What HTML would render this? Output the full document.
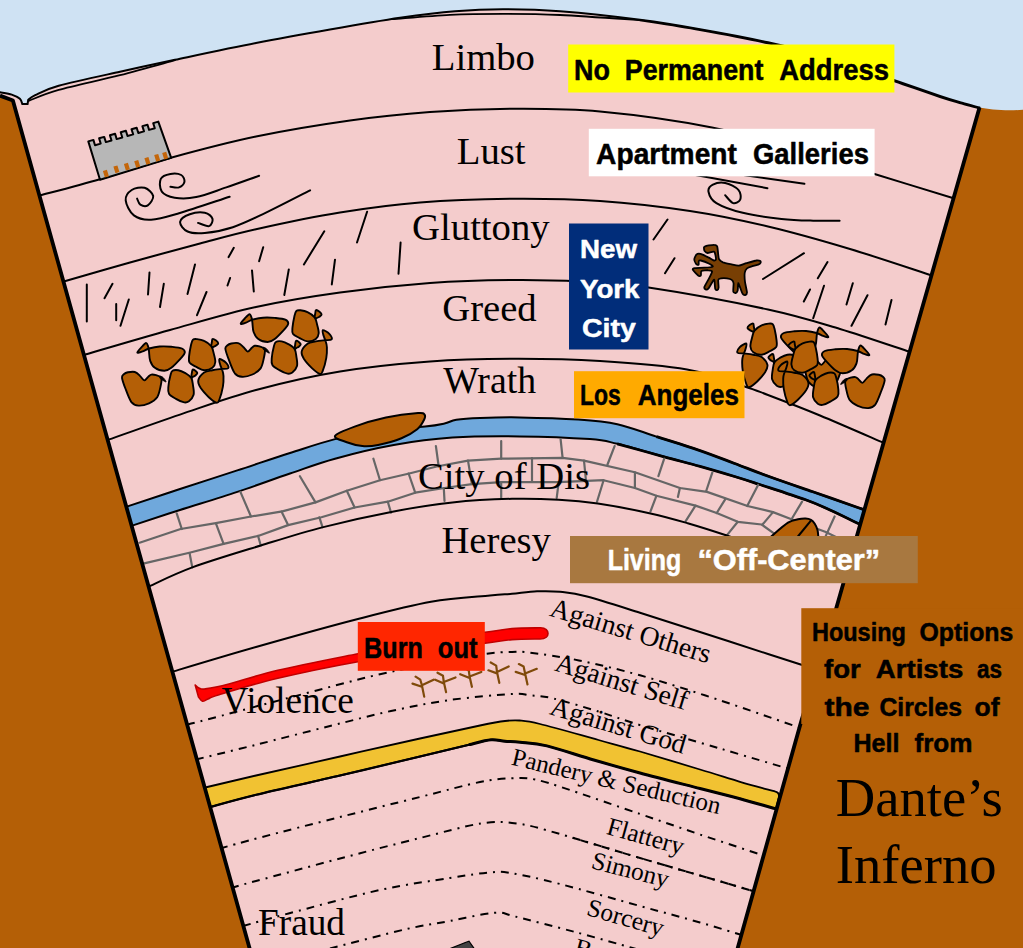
<!DOCTYPE html>
<html lang="en">
<head>
<meta charset="utf-8">
<title>Housing Options for Artists as the Circles of Hell from Dante’s Inferno</title>
<style>html,body{margin:0;padding:0;background:#cfe2f3;overflow:hidden}svg{display:block}</style>
</head>
<body>
<svg width="1023" height="948" viewBox="0 0 1023 948">
<rect width="1023" height="948" fill="#cfe2f3"/>
<path d="M0 95.2L14 101L250.9 953 L0 953 Z" fill="#b45f06"/>
<path d="M979.5 107.5C990 109.5 1005 111.2 1023 109.8L1023 953 L736.3 953 L801.3 721L836.3 608Z" fill="#b45f06"/>
<path id="fun" d="M0 92.3C1.9 92.7 8.4 93.5 11.7 94.6C15 95.7 18.1 97.1 19.9 98.7C21.7 100.3 21.9 103.1 22.3 104L27.6 104L28.2 99.9C29.4 99.1 30.1 97.6 35.2 95.2C40.3 92.8 44.6 89.7 58.7 85.8C72.8 81.9 100.6 76 120 71.7C139.4 67.4 152.3 64.6 175 59.8C197.7 55 230.2 48 256 43C281.8 38 306 33.7 330 29.5C354 25.3 379.2 20.9 400 17.8C420.8 14.8 437.8 12.6 455 11.2C472.2 9.8 485.5 9.2 503 9.2C520.5 9.2 537.2 9.5 560 11.3C582.8 13.1 616.7 16.8 640 19.8C663.3 22.8 678.7 25.4 700 29.2C721.3 32.9 746.3 37.5 768 42.3C789.7 47.1 808.9 51.7 830 58C851.1 64.3 876.2 74 894.5 80.3C912.8 86.6 928.8 92.2 940 96C951.2 99.8 955.4 100.9 962 102.8C968.6 104.7 976.6 106.7 979.5 107.5L836.3 608L801.3 721L736.3 953L250.9 953 L13.6 101 L0 95.2Z" fill="#f4cccc"/>
<clipPath id="cf"><path d="M0 92.3C1.9 92.7 8.4 93.5 11.7 94.6C15 95.7 18.1 97.1 19.9 98.7C21.7 100.3 21.9 103.1 22.3 104L27.6 104L28.2 99.9C29.4 99.1 30.1 97.6 35.2 95.2C40.3 92.8 44.6 89.7 58.7 85.8C72.8 81.9 100.6 76 120 71.7C139.4 67.4 152.3 64.6 175 59.8C197.7 55 230.2 48 256 43C281.8 38 306 33.7 330 29.5C354 25.3 379.2 20.9 400 17.8C420.8 14.8 437.8 12.6 455 11.2C472.2 9.8 485.5 9.2 503 9.2C520.5 9.2 537.2 9.5 560 11.3C582.8 13.1 616.7 16.8 640 19.8C663.3 22.8 678.7 25.4 700 29.2C721.3 32.9 746.3 37.5 768 42.3C789.7 47.1 808.9 51.7 830 58C851.1 64.3 876.2 74 894.5 80.3C912.8 86.6 928.8 92.2 940 96C951.2 99.8 955.4 100.9 962 102.8C968.6 104.7 976.6 106.7 979.5 107.5L836.3 608L801.3 721L736.3 953L250.9 953 L13.6 101 L0 95.2Z"/></clipPath>
<g clip-path="url(#cf)">
<g fill="none" stroke="#000" stroke-width="2" stroke-linecap="round" stroke-linejoin="round">
<path d="M38 196C48.3 193.2 77.8 185.6 99.9 179.2C122.1 172.8 144.9 164.8 170.9 157.7C196.9 150.6 226.2 142.7 256 136.5C285.9 130.3 321 124.6 350 120.5C379 116.4 403 114 430 112C457 110 483.7 108.9 512 108.8C540.3 108.7 566.7 108.4 600 111.5C633.3 114.6 678.7 120.9 712 127.5C745.3 134.1 772.9 143.2 800 151C827.1 158.8 848.5 166 874.5 174C900.5 182 942.4 194.8 956 199"/>
<path d="M62 282C73.3 278.8 107 268.9 130 262.5C153 256.1 179 249.1 200 243.5C221 237.9 232.7 234.4 256 229.2C279.3 224 312.7 216.9 340 212.5C367.3 208.1 391.3 204.8 420 202.5C448.7 200.2 482 199.1 512 198.8C542 198.6 570.3 199 600 201C629.7 203 662 206.8 690 211C718 215.2 741.3 220.2 768 226.5C794.7 232.8 822.7 240.8 850 249C877.3 257.2 918.3 271.1 932 275.5"/>
<path d="M83 355.2C97.5 351 141.2 338 170 330C198.8 322 227.7 313.2 256 307C284.3 300.8 311 296.5 340 292.5C369 288.5 401.3 285.1 430 283C458.7 280.9 487 280.2 512 280C537 279.8 557.2 280.2 580 281.5C602.8 282.8 617.2 282.8 648.5 287.5C679.8 292.2 736.1 302.6 768 309.5C799.9 316.4 816.3 321.9 840 329C863.7 336.1 898.3 348.2 910 352"/>
<path d="M106 440.6C118.3 436.3 155 423 180 414.6C205 406.2 229.3 397.2 256 390C282.7 382.8 311 376.2 340 371.5C369 366.8 401.3 363.6 430 361.5C458.7 359.4 483.7 358.9 512 358.8C540.3 358.7 570.8 359.2 600 361C629.2 362.8 662.9 365.2 687 369.5C711.1 373.8 731 382.2 744.5 386.5C758 390.8 755.4 390.2 768 395C780.6 399.8 800.7 407.5 820 415.5C839.3 423.5 873.3 438.4 884 443"/>
</g>
<path d="M122 508.5C123.3 508 120.1 508.9 129.8 505.6C139.5 502.4 162.1 494.9 180 489C197.9 483.1 219 476.4 237.3 470.4C255.6 464.4 273.7 458.2 290 453C306.3 447.8 320 442.9 335 439.1C350 435.4 365 432.6 380 430.5C395 428.4 414.2 427.8 425 426.6C435.8 425.4 439.3 424.6 444.5 423.5C449.7 422.4 450.4 420.7 456.3 419.8C462.2 418.9 469.4 418.4 480 418C490.6 417.6 503.6 417.1 520 417.4C536.4 417.7 562 418.5 578.2 419.6C594.4 420.7 604.3 421.4 617.3 424.2C630.3 427 642.6 432.2 656.4 436.6C670.2 441 687 446.1 700 450.6C713 455.1 722.9 459.1 734.6 463.5C746.3 467.9 757.4 472.3 770.4 477C783.4 481.7 798.1 486.7 812.8 491.8C827.5 496.9 849.2 504.5 858.4 507.7C867.6 510.9 866.4 510.6 868 511.2L864 526.5C862.8 525.9 862.3 525.5 856.6 522.7C850.9 520 838.5 513.8 830 510C821.5 506.2 817.6 504.1 805.6 499.8C793.6 495.5 769.9 487.9 758.1 484C746.3 480.1 744.3 479.4 734.6 476.5C724.9 473.6 711.7 469.7 700 466.4C688.3 463.1 678 460.6 664.2 456.8C650.4 453 629.7 446.8 617.3 443.8C604.9 440.9 606.1 440.3 589.9 439.1C573.7 437.9 542.9 436.6 520 436.4C497.1 436.1 473.4 436.2 452.4 437.6C431.3 439 413.3 441.5 393.7 445C374.1 448.5 352.3 453.9 335 458.7C317.7 463.4 306.3 468 290 473.5C273.7 479 255.6 485.8 237.3 491.9C219 498 197.3 504.5 180 510C162.7 515.5 142.4 522.2 133.7 525.1C125 528 128.9 526.9 128 527.3Z" fill="#6fa8dc" stroke="#000" stroke-width="2" stroke-linejoin="round"/>
<path d="M656.4 436.6C663.7 438.9 687 446.1 700 450.6C713 455.1 722.9 459.1 734.6 463.5C746.3 467.9 757.4 472.3 770.4 477C783.4 481.7 798.1 486.7 812.8 491.8C827.5 496.9 849.2 504.5 858.4 507.7C867.6 510.9 866.4 510.6 868 511.2" fill="none" stroke="#000" stroke-width="2.8"/>
<path d="M617.3 443.8C625.1 446 650.4 453 664.2 456.8C678 460.6 688.3 463.1 700 466.4C711.7 469.7 724.9 473.6 734.6 476.5C744.3 479.4 746.3 480.1 758.1 484C769.9 487.9 793.6 495.5 805.6 499.8C817.6 504.1 821.5 506.2 830 510C838.5 513.8 850.9 520 856.6 522.7C862.3 525.5 862.8 525.9 864 526.5" fill="none" stroke="#000" stroke-width="2.8"/>
<g fill="none" stroke="#666" stroke-width="2.2" stroke-linecap="round" stroke-linejoin="round">
<path d="M139.6 542.7L180.6 529L215.8 523.2L251 516.5L282.3 511.4L315.5 502.4L346.8 490.7L380 480.2L409.3 473.5L436.7 466.5L468 460.6L501.2 458.7L562.6 457.9L584 460.6L634.9 472.3L679.9 488L707 491.9L747.5 506L773 512.1L791.5 519.2L825.8 532L842 540"/>
<path d="M144.2 563.4L190.4 552.5L223.6 543.9L258.8 535.7L288.1 525.1L321.4 517.3L354.6 507.5L387.8 501.7L415.2 492.7L444.5 488L471.9 484.1L501.2 482.1L558.7 482.1L603.6 480.2L634.9 488L656.4 495.8L695.5 505.6L716.7 513L737.8 521.8L761.6 524.5L773.9 533.3L790 542"/>
<path d="M176.7 513.4L181.8 529M240.4 491.9L251 516.5M299.9 476.2L315.5 502.4M373.4 458.7L380 480.2M435.9 446.1L438.7 466.5M501.2 441.1L501.2 458.7M560.6 439.1L562.6 457.9M614.6 446.1L607.5 464.5M664.2 458.7L658.4 476.2M712.3 472.6L706.2 491M758.1 484.9L747.2 506M802.1 501.6L791.5 519.2M834.6 516.5L825.8 535.9M215.8 523.2L223.6 543.9M281.5 511.4L288.1 525.1M346.8 490.7L354.6 507.5M408.6 473.5L415.2 492.7M468 460.6L471.9 484.1M532 458L532 482M584 460.6L586 481M634.9 472.3L634.9 488M679.9 488L677.9 497M725.5 498.9L716.7 513M773 512.1L762.5 524.5M189.6 553.3L192.3 567.4M258 535.7L260.8 545.5M319.4 517.3L322.5 527.1M387.8 501.7L391 512.6M443.8 488L444.5 500.9M501.2 482.1L501.2 497.8M558.7 482.1L556.7 497.8M603.6 480.2L597 501.7M656.4 495.8L650.5 511.4M695.5 505.6L685.7 521.2M737.8 521.8L726.4 535.9"/>
</g>
<path d="M335 436C336.3 433.4 346.1 429.7 354.6 426.6C363.1 423.5 375.3 419.9 385.9 417.6C396.5 415.3 411.6 413.5 418 413C424.4 412.5 423.5 413.4 424.5 414.5C425.5 415.6 425.4 417 424.2 419.5C423 422 421 426.2 417.2 429.3C413.4 432.4 408 435.7 401.5 438.3C395 440.9 384.6 443.7 378.1 445C371.6 446.3 367.6 446.6 362.4 446.1C357.2 445.6 351.4 443.9 346.8 442.2C342.2 440.5 333.7 438.6 335 436Z" fill="#b45f06" stroke="#000" stroke-width="2" stroke-linejoin="round"/>
<path d="M770 537.5C773 535 783.3 525.7 788 522.7C792.7 519.7 795.1 520 798 519.3C800.9 518.6 803.4 518.4 805.6 518.5C807.8 518.6 809.5 519 811 519.8C812.5 520.6 813.5 521.8 814.6 523.5C815.7 525.2 816.9 527.7 817.5 530C818.1 532.3 818.2 536.2 818.4 537.5" fill="#b45f06" stroke="#000" stroke-width="2" stroke-linejoin="round"/>
<path d="M797.5 537L810.9 520.7" fill="none" stroke="#000" stroke-width="2"/>
<g fill="none" stroke="#000" stroke-width="2" stroke-linecap="round" stroke-linejoin="round">
<path d="M147 587.3C154.6 584 173.3 574.4 192.3 567.4C211.3 560.4 239 552.2 260.8 545.5C282.6 538.8 301.2 532.8 323.3 527.1C345.4 521.4 372.2 515.5 393.7 511.4C415.2 507.3 432.7 504.5 452.4 502.4C472.1 500.3 494.3 499.2 512 498.8C529.7 498.4 544.4 498.9 558.7 499.7C573 500.5 582.5 501.3 597.8 503.6C613.1 505.9 635.5 510.1 650.5 513.4C665.5 516.7 675 519.5 687.7 523.2C700.4 526.9 714.8 531.5 726.8 535.5C738.8 539.5 754.5 545.1 760 547"/>
<path d="M170 672.5C184.3 668.2 225 655.8 256 647C287 638.2 326.8 627 356 619.5C385.2 612 408.7 605.8 431 601.8C453.3 597.8 476.5 596.9 490 595.6C503.5 594.3 504.2 594.5 512 593.8C519.8 593.1 529 591.6 537 591.3C545 591 551.7 590.9 560 591.8C568.3 592.7 573.7 593 587 596.5C600.3 600 621.2 606.8 640 612.7C658.8 618.6 678.7 625.1 700 632C721.3 638.9 749.7 648.1 768 654C786.3 659.9 803 665.2 810 667.5"/>
</g>
<g fill="none" stroke="#000" stroke-width="2" stroke-dasharray="8 6 2 6">
<path d="M187 724.5C190.1 723.8 188.2 724.5 205.4 720C222.6 715.5 260.9 705.1 290 697.5C319.1 689.9 355 680 380 674.2C405 668.4 422.5 665.9 440 662.5C457.5 659.1 472.8 655.8 484.8 654C496.8 652.2 504.5 652.2 512 652C519.5 651.8 518.9 651.2 530 652.6C541.1 654 560.6 656.6 578.9 660.4C597.2 664.2 616.8 668.8 640 675.3C663.2 681.8 691.2 690.8 718.2 699.7C745.2 708.6 788 723.7 802 728.5"/>
<path d="M196 759.5C206 757 233.7 750.4 256 744.8C278.3 739.2 307.5 731.6 330 726C352.5 720.4 371 715.3 391 711C411 706.7 429.8 702.8 450 700C470.2 697.2 498.7 694.8 512 694C525.3 693.2 523.1 694.5 530 695.3C536.9 696 541.8 695.7 553.5 698.5C565.2 701.3 585.6 707.6 600 712C614.4 716.4 620 719 640 725.1C660 731.2 694.7 741 720 748.5C745.3 756 780 766.2 792 769.8"/>
<path d="M220 848.5C226.8 846.6 241 842.5 261 837.3C281 832 313.5 823.7 340 817C366.5 810.3 396.7 802.8 420 797C443.3 791.2 464.7 785.1 480 782C495.3 778.9 502.8 778.7 512 778.3C521.2 777.9 525.3 777.5 535 779.5C544.7 781.5 552.5 784.2 570 790C587.5 795.8 618.3 806.6 640 814C661.7 821.4 678.7 827.3 700 834.5C721.3 841.7 756.7 853.2 768 857"/>
<path d="M231 888C235.2 886.8 237.8 885.9 256 881C274.2 876.1 312.7 865.7 340 858.5C367.3 851.3 396.5 843.8 420 838C443.5 832.2 464.8 825.9 481 823.5C497.2 821.1 503.8 821.8 517 823.5C530.2 825.2 539.5 828.2 560 834C580.5 839.8 616.7 851.1 640 858C663.3 864.9 680.3 869.8 700 875.5C719.7 881.2 748.3 889.7 758 892.5"/>
<path d="M243 926C250.6 923.9 265.7 919.5 288.5 913.5C311.3 907.5 353.1 895.9 380 890C406.9 884.1 431.5 881 450 878C468.5 875 480.7 873.1 491 872.3C501.3 871.5 500.5 871.3 512 873.3C523.5 875.2 538.7 878.5 560 884C581.3 889.5 616.7 899.6 640 906C663.3 912.4 682.5 917.5 700 922.5C717.5 927.5 737.5 933.8 745 936"/>
<path d="M330 948.5C342.6 945.3 385.5 933.9 405.5 929.3C425.5 924.7 435.2 923.8 450 921C464.8 918.2 483.6 913.5 494.4 912.8C505.2 912 501.6 913.3 515 916.5C528.4 919.7 555.4 926.8 575 932C594.6 937.2 620.1 944.5 632.6 948C645.1 951.5 647.1 952.2 650 953"/>
<path d="M570 837C581.7 840.5 618.3 851.6 640 858C661.7 864.4 680.3 869.8 700 875.5C719.7 881.2 748.3 889.7 758 892.5" stroke-dashoffset="11"/>
</g>
<path d="M203 788C211.8 785.9 233.2 780.8 256 775.5C278.8 770.2 312.7 762.7 340 756.5C367.3 750.3 396.7 743.7 420 738.5C443.3 733.3 465.8 728.4 480 725.5C494.2 722.6 498.4 721.8 505 721C511.6 720.2 513.7 720 519.5 720.5C525.3 721 526.8 720.8 540 724C553.2 727.2 581.8 735.4 598.5 740C615.2 744.6 623.1 746.6 640 751.5C656.9 756.4 683.3 764.5 700 769.5C716.7 774.5 729.2 778.6 740 781.8C750.8 785 759.1 787.2 765 788.8C770.9 790.4 773.8 791.1 775.5 791.6C778.6 792.4 779.4 794.5 778.8 797.5L776.4 807.2Q776.1 808.8 775.2 808.6L775.2 808.6C769.3 807 752.5 802.1 740 798.7C727.5 795.4 716.7 792.8 700 788.5C683.3 784.2 657.7 777.8 640 773C622.3 768.2 609.3 764.5 593.8 760C578.3 755.5 559.2 748.9 546.9 745.9C534.6 742.9 527 743 520 742.2C513 741.4 509.8 741.7 505 741.3C500.2 740.9 496.8 739.3 491 739.8C485.2 740.3 481.8 741.7 470 744.5C458.2 747.3 441.7 751.3 420 756.5C398.3 761.7 367.3 769.1 340 775.5C312.7 781.9 277.8 789.5 256 794.8C234.2 800.1 216.8 805.2 209 807.3Z" fill="#f1c232" stroke="#000" stroke-width="1.8" stroke-linejoin="round"/>
<path d="M470 744.5C473.5 743.7 485.2 740.3 491 739.8C496.8 739.3 500.2 740.9 505 741.3C509.8 741.7 513 741.4 520 742.2C527 743 534.6 742.9 546.9 745.9C559.2 748.9 578.3 755.5 593.8 760C609.3 764.5 622.3 768.2 640 773C657.7 777.8 683.3 784.2 700 788.5C716.7 792.8 727.5 795.4 740 798.7C752.5 802.1 769.3 807 775.2 808.6" fill="none" stroke="#000" stroke-width="3" stroke-linecap="round"/>
<path d="M209 807.3C216.8 805.2 234.2 800.1 256 794.8C277.8 789.5 312.7 781.9 340 775.5C367.3 769.1 398.3 761.7 420 756.5C441.7 751.3 461.7 746.5 470 744.5" fill="none" stroke="#000" stroke-width="2.2"/>
<path d="M195.2 685C195.8 685.5 197.3 687.4 199 688C200.7 688.6 200.4 689.6 205.4 688.9C210.4 688.2 216.8 687.1 228.9 684C241 680.9 256.3 675.3 277.8 670.3C299.3 665.2 332.4 658.8 357.9 653.7C383.4 648.6 409.8 643.1 431 639.5C452.2 635.9 471.5 634.1 485 632.3C498.5 630.5 502.8 629.4 512 628.6C521.2 627.9 535.3 627.9 540 627.8C546 627.6 548 631 548 633.5C548 636 546 639 540 639C535.3 639.1 521.2 638.9 512 639.6C502.8 640.3 498.5 641.4 485 643.2C471.5 645 452.2 647.4 431 650.5C409.8 653.6 383.4 657.1 357.9 661.7C332.4 666.3 300.9 672.8 277.8 678.3C254.7 683.8 230.7 691.2 219.1 694.7C207.5 698.2 210.8 697.9 208 699C205.2 700.1 204.1 701.6 202.5 701.3C200.9 701 199.2 697.7 198.5 697Z" fill="#ff0000" stroke="#c00000" stroke-width="1.6" stroke-linejoin="round"/>
<path d="M86.8 284.5L86.8 321.5M112.5 283.8L104.5 298.2M116.2 304L116.2 320.2M128.8 299.5L120.5 325.8M149.5 272.5L148 294.5M163.8 283.8L160 307M195 264.5L187.5 294M206.5 292L197 315.2M233.8 247.8L228.6 257.1M230.1 278L227.5 285.5M252 270.4L253.8 291.5M263.2 247.2L259.1 261.2M324.3 231.3L303.9 264.4M288.8 269.4L284.3 295M335 259.7L331.8 284.4M367.1 211.7L357 242.5M400.6 242.5L398.5 273.7M804 253.2L763 279M827.5 262L817.8 278.2M810 289.5L803.8 301.5M824 285.8L813.2 318.2M852.8 283.2L846.5 304.5M867.5 295.2L851.5 325.8M891.5 300L885.5 324.5M667.5 219.5L653.5 239.5M674.5 258.2L665 273.2" fill="none" stroke="#000" stroke-width="2" stroke-linecap="round"/>
<g fill="none" stroke="#000" stroke-width="2" stroke-linecap="round" stroke-linejoin="round">
<path d="M690 174.1L767.4 188.2M740 174.5L804.4 183.8"/>
<path d="M137.1 198.6C137.6 199.6 138.5 203.5 140.3 204.6C142.1 205.7 145.7 206.7 147.8 205.3C150 203.9 153.7 198.9 153.2 196C152.7 193.1 148.2 188.8 144.6 187.8C141 186.8 134.8 187.9 131.7 190C128.5 192.1 125.3 196.1 125.7 200.3C126.1 204.5 129.7 212.2 133.9 215.4C138.1 218.6 143.6 220.1 151.1 219.7C158.6 219.3 165.9 217 179 213.2C192.1 209.4 221.2 199.4 229.7 196.7"/>
<path d="M170.4 186.8C171.8 186.9 176.7 188.2 179 187.4C181.3 186.6 184 184.1 184.4 182C184.8 179.9 183.5 176.3 181.2 175C178.9 173.7 173.8 173.3 170.4 173.9C167 174.5 162.2 175.8 160.8 178.8C159.4 181.8 159.5 188.5 161.8 191.7C164.1 194.8 169 196.8 174.7 197.7C180.4 198.6 187.6 198.8 196.2 197.1C204.8 195.4 215.8 190.9 226.3 187.4C236.8 183.9 253.6 177.7 259.1 175.8"/>
<path d="M198 222.9C199.8 223.4 206.7 226.8 209.1 226.1C211.5 225.4 213.1 220.8 212.4 218.6C211.7 216.4 208.6 213.5 204.8 212.8C201 212.1 193.9 212.8 189.8 214.3C185.7 215.8 180.5 218.9 180.1 221.8C179.7 224.7 183.5 229.6 187.6 231.5C191.7 233.4 197.3 233.7 204.8 233C212.3 232.3 222.9 230.5 232.8 227.2C242.8 223.9 251.6 219.5 264.5 213.4C277.4 207.3 302.5 194.2 310.1 190.4"/>
<path d="M725.2 195.2C726.5 196.5 730.6 202.4 733.1 203.1C735.6 203.8 739.3 201.8 740.2 199.6C741.1 197.4 740.9 192.7 738.4 189.9C735.9 187.1 729.5 183.8 725.2 182.9C721 182 715.7 183.1 712.9 184.6C710.1 186.1 707.9 188.6 708.5 191.7C709.1 194.8 710.7 199.6 716.4 203.1C722.1 206.6 731.9 210.2 742.8 212.8C753.6 215.4 769.8 217.6 781.5 218.9C793.2 220.2 803.5 220.4 813.2 220.7C822.9 221 835.2 220.7 839.6 220.7"/>
</g>
<path d="M88.3 141.4L93.4 139.9L95 145.2L100.7 143.6L99.1 138.3L104.2 136.9L105.9 142.1L111.5 140.5L109.9 135.3L115.1 133.8L116.7 139.1L122.3 137.5L120.7 132.2L125.9 130.8L127.5 136L133.2 134.4L131.5 129.2L136.7 127.7L138.3 133L144 131.4L142.4 126.1L147.5 124.7L149.1 129.9L154.8 128.3L153.2 123.1L158.3 121.6L171.2 157.9L100 179.7Z" fill="#b7b7b7" stroke="#000" stroke-width="2" stroke-linejoin="round"/>
<path d="M104.9 170.3L106.9 176.9M115.4 166L117.4 172.6M125.9 163.3L127.9 169.9M136.2 160.6L138.2 167.2M146.4 157.6L148.4 164.2M156.2 154.5L158.2 161.1M164.2 152.3L166.2 158.9" fill="none" stroke="#c4660a" stroke-width="4.2"/>
<defs><g fill="#b45f06" stroke="#000" stroke-width="1.9" stroke-linejoin="round" id="rk"><path d="M122 377.8C121.7 375.4 122.8 375.2 123.8 374.3C124.8 373.4 126 372.7 127.9 372.3C129.8 371.9 132.9 371.3 134.9 372C137 372.6 138.7 374.6 140.2 376.1C141.8 377.5 143 380.3 144.3 380.4C145.7 380.5 147.3 377.6 148.4 376.6C149.6 375.7 150.1 374.9 151.4 374.6C152.6 374.4 154.4 374.7 156.1 375.2C157.7 375.8 160.6 375.9 161.3 377.8C162.1 379.7 161.2 383.4 160.5 386.6C159.8 389.8 159.1 394.4 157.2 397.2C155.3 399.9 152.1 401.9 149 403.3C145.9 404.7 141.4 405.8 138.5 405.6C135.5 405.4 133.6 404.9 131.4 402.1C129.3 399.3 127.1 393 125.6 389C124 384.9 122.3 380.3 122 377.8Z"/><path d="M159.6 376.1C160.1 375.9 162 376.5 163.1 377.5C164.2 378.4 166.2 381.5 166.1 381.9C166 382.4 163.5 380.7 162.5 380.2C161.5 379.6 160.7 379.3 160.2 378.6C159.7 378 159.1 376.3 159.6 376.1Z" fill="#000" stroke-width="0.8"/><path d="M137.3 352.6C137.1 351.9 139.9 348.9 141.4 347.3C142.9 345.7 145 343.1 146.1 343C147.2 342.9 147.7 345.3 148.2 346.7C148.7 348.1 148.7 349.1 149 351.4C149.3 353.8 149.2 358.1 150.2 360.8C151.2 363.5 152.5 366.2 154.9 367.8C157.2 369.5 161.5 370.8 164.3 370.8C167 370.8 168.6 369.9 171.3 367.8C174 365.8 178.4 361 180.7 358.5C182.9 355.9 184.6 354.3 184.8 352.6C185 350.9 184.1 349.5 181.9 348.5C179.6 347.5 175 347.1 171.3 346.7C167.6 346.4 163.3 346.2 159.6 346.5C155.9 346.8 151.9 347.7 149 348.5C146.2 349.3 144.5 350.7 142.6 351.4C140.6 352.1 137.5 353.3 137.3 352.6Z" fill-rule="nonzero"/><path d="M211.2 346.5C211 345.7 211.7 343.3 211.9 342C212.1 340.8 211.9 339.1 212.6 338.9C213.3 338.6 215.2 339.9 216.1 340.6C217.1 341.4 218.3 342.6 218.2 343.4C218.2 344.3 216.7 345 215.9 345.6C215 346.1 213.8 346.8 213.1 347C212.3 347.1 211.4 347.3 211.2 346.5Z"/><path d="M193 339.7C194 338.7 195.3 338.9 197.1 339.1C199 339.3 201.8 339.7 204.1 340.9C206.5 342 209.6 344.2 211.2 346.1C212.8 348.1 212.8 350 213.5 352.6C214.2 355.2 215.5 359.4 215.3 362C215.1 364.5 214.2 366.5 212.4 367.8C210.5 369.2 206.9 370.4 204.1 370.2C201.4 370 198.4 367.9 195.9 366.7C193.5 365.4 190.6 364.3 189.5 362.6C188.4 360.8 188.9 359 189.1 356.1C189.4 353.2 190.4 347.7 191 345C191.7 342.2 192 340.7 193 339.7Z"/><path d="M191.2 378.2C191.1 377.5 191.6 374.6 191.8 373.1C192.1 371.7 192.1 370 192.7 369.6C193.2 369.2 194.6 370.2 195.4 370.8C196.1 371.4 197.3 372.3 197.3 373.1C197.3 373.9 196.1 374.8 195.4 375.5C194.6 376.1 193.3 376.5 192.7 377C192 377.4 191.4 378.8 191.2 378.2Z"/><path d="M172.5 370.8C173.8 369.9 176.2 369.8 178.3 370.2C180.5 370.6 183.2 371.9 185.4 373.1C187.5 374.4 190 375.8 191.2 377.8C192.5 379.9 192.6 382.6 193 385.4C193.4 388.3 194.3 392.2 193.6 394.8C192.9 397.5 190.5 400 188.9 401.3C187.3 402.5 186.4 402.8 184.2 402.4C182.1 402.1 178.5 400.4 176 398.9C173.5 397.5 170.2 395.7 169 393.7C167.7 391.6 168.1 389.6 168.4 386.6C168.6 383.6 169.7 378.1 170.4 375.5C171.1 372.8 171.1 371.7 172.5 370.8Z"/><path d="M198.3 380.2C198.9 377.6 201.8 374.2 204.1 372.5C206.5 370.9 209.5 370.8 212.4 370.2C215.2 369.6 218.5 369.3 221.2 369C223.8 368.7 227.4 369.3 228.2 368.2C229 367.1 227.3 364.1 225.9 362.6C224.4 361 220.3 358.7 219.4 359C218.5 359.4 219.8 363.1 220.3 364.9C220.8 366.8 221.8 368.3 222.3 370.2C222.9 372 223.4 373.3 223.5 376.1C223.6 378.8 223.6 382.7 222.9 386.6C222.2 390.5 220.5 396.8 219.4 399.5C218.3 402.2 218.2 403.1 216.5 402.7C214.7 402.3 211.5 399.7 208.8 397.2C206.2 394.7 202.4 390.6 200.6 387.8C198.9 385 197.7 382.7 198.3 380.2Z" fill-rule="nonzero"/></g></defs>
<use href="#rk"/>
<use href="#rk" transform="translate(103.4 -28.8)"/>
<use href="#rk" transform="translate(965.7 -15.5) scale(-1 1)"/>
<use href="#rk" transform="translate(1006.7 2.5) scale(-1 1)"/>
<path d="M703.9 247.6C704 247.1 704.8 246.7 705.2 246.4C705.6 246.2 706.3 245.8 707.4 245.6C708.4 245.5 713.1 244.8 714.2 244.9C715.3 244.9 716.5 245.6 717 246.1C717.4 246.7 717.6 248.7 717.7 249.6C717.9 250.4 718 252.3 718.1 253.5C718.3 254.6 718.5 258.3 719.1 259.3C719.7 260.4 721.6 261.7 723 262.3C724.4 262.8 729 263.8 730.8 264.2C732.7 264.6 736.8 265.8 738.7 265.7C740.5 265.6 744.4 263.8 746.5 263.2C748.5 262.6 754.6 260.7 756.2 260.5C757.9 260.2 759.9 260.8 760.4 261.1C760.9 261.4 760.8 262.6 760.5 263C760.3 263.5 759.2 264.3 758.2 264.7C757.2 265.1 753.6 265.7 752.3 266.2C751 266.6 747.8 267.5 747 268.3C746.1 269.1 744.9 271.4 744.7 273C744.5 274.6 744.7 279.5 745 281.8C745.3 284.1 746.9 291 747 292.6C747 294.1 745.8 294.9 745.3 295C744.8 295.1 743.2 294.7 742.6 293.7C741.9 292.8 740.3 287.9 739.8 286.7C739.3 285.5 738.4 282.8 738.2 283.3C737.9 283.7 738 289.5 737.7 290.6C737.4 291.7 736.2 292.9 735.7 293C735.2 293.2 733.5 292.7 733.3 291.6C733 290.4 733.7 284.6 733.6 283.3C733.4 281.9 732.6 280.4 731.8 279.9C731 279.3 728.2 278.6 726.9 278.4C725.7 278.2 722.1 278.2 721.1 278.4C720.1 278.5 718.6 278.6 718.3 279.7C718 280.7 718.7 286.5 718.6 287.7C718.5 288.9 717.5 290 717.1 290.1C716.7 290.2 715.5 289.8 715.2 288.7C714.9 287.5 714.6 281.3 714.4 280.3C714.2 279.4 714.1 279.4 713.4 280.3C712.7 281.3 709.3 287.6 708.3 288.7C707.4 289.7 706.1 289.6 705.6 289.4C705.2 289.2 704 288.2 704.4 286.9C704.9 285.5 708.4 279.7 709.3 277.9C710.2 276.1 712.2 272.4 712.1 271.5C711.9 270.7 709.6 270.3 708.3 270.3C707.1 270.2 702.4 270.5 701.5 271.1C700.6 271.6 701.2 274.6 700.9 275.2C700.6 275.7 699.7 276.6 698.8 275.9C697.8 275.3 693.4 270.8 692.9 269.9C692.4 269 693.3 268.4 694.7 268.1C696 267.9 702.3 267.8 704.4 267.6C706.5 267.5 712.2 267 712.7 266.6C713.3 266.1 710.7 264.4 709.3 263.7C707.9 263 702 260.8 700.7 260.5C699.5 260.2 699 260.6 698.8 261.1C698.5 261.6 698.9 264.3 698.6 264.7C698.3 265.1 696.8 264.8 696.3 264.2C695.8 263.6 694.2 260.5 694.3 259.3C694.3 258.2 695.9 255.1 696.6 254.4C697.3 253.8 699.2 253.6 700.5 253.9C701.9 254.3 706.8 256.6 708.3 257.4C709.9 258.1 713.1 260.3 714 260.5C714.9 260.7 715.9 260.2 716 259.1C716 258.1 715.2 252.4 714.2 251.7C713.2 251 708.7 253.1 707.6 253C706.4 252.9 705.1 251.6 704.6 251C704.2 250.4 703.9 248.1 703.9 247.6Z" fill="#783f04" stroke="#000" stroke-width="1.8" stroke-linejoin="round"/>
<path d="M424.2 696.6L421.9 685.2L420.3 679.7L415.6 676.6M412.5 683.6L421.9 686.7M433.6 679.7L421.9 685.2M446.1 692.2L443.8 682.1L443 675.8L437.5 672.7M435.2 679.7L443.8 683.6M455.5 677.4L443.8 682.1M471.9 686.8L469.6 676.6L468.8 670.5L463.5 667.5M460.2 674.2L469.6 678.1M481.3 671.9L469.6 676.6M499.3 682.8L497 671.9L496.2 665.6L490.7 662.5M488.4 670.3L497 673.4M508.7 666.4L497 671.9M527.5 684.4L525.1 673.5L523.6 666.4L518.9 664.1M515.7 671.9L525.1 675M536.8 668.8L525.1 673.5" fill="none" stroke="#7f4a0a" stroke-width="2.2" stroke-linecap="round" stroke-linejoin="round"/>
<path d="M449 949L466 942.3L469 941.2L474.5 949Z" fill="#434343" stroke="#000" stroke-width="1.2"/>
</g>
<g fill="none" stroke="#000" stroke-linecap="round" stroke-linejoin="round">
<path d="M0 92.3C1.9 92.7 8.4 93.5 11.7 94.6C15 95.7 18.1 97.1 19.9 98.7C21.7 100.3 21.9 103.1 22.3 104L27.6 104L28.2 99.9C29.4 99.1 30.1 97.6 35.2 95.2C40.3 92.8 44.6 89.7 58.7 85.8C72.8 81.9 100.6 76 120 71.7C139.4 67.4 152.3 64.6 175 59.8C197.7 55 230.2 48 256 43C281.8 38 306 33.7 330 29.5C354 25.3 379.2 20.9 400 17.8C420.8 14.8 437.8 12.6 455 11.2C472.2 9.8 485.5 9.2 503 9.2C520.5 9.2 537.2 9.5 560 11.3C582.8 13.1 616.7 16.8 640 19.8C663.3 22.8 678.7 25.4 700 29.2C721.3 32.9 746.3 37.5 768 42.3C789.7 47.1 808.9 51.7 830 58C851.1 64.3 876.2 74 894.5 80.3C912.8 86.6 928.8 92.2 940 96C951.2 99.8 955.4 100.9 962 102.8C968.6 104.7 976.6 106.7 979.5 107.5" stroke-width="2"/>
<path d="M28.7 100.8C33.7 99 43.5 94.2 58.7 89.9C73.9 85.6 100.6 80.2 120 75.2C139.4 70.2 165.8 62.7 175 60.2" stroke-width="1.8"/>
<path d="M392 19.2C401.7 18.5 431.5 15.7 450 14.8C468.5 13.9 484.7 13.8 503 13.8C521.3 13.8 537.2 13.9 560 15C582.8 16.1 626.7 19.3 640 20.2" stroke-width="1.8"/>
<path d="M640 20.3C650 21.9 678.7 26.2 700 30C721.3 33.8 746.3 38.4 768 43.3C789.7 48.1 808.9 52.8 830 59.1C851.1 65.4 876.2 75 894.5 81.3C912.8 87.6 928.8 93.3 940 97C951.2 100.7 955.6 101.7 962 103.6C968.4 105.5 975.8 107.4 978.5 108.2" stroke-width="2"/>
<path d="M0 95.6L12.9 100.5L250.9 953" stroke-width="3.8" stroke-linecap="butt"/>
<path d="M979.5 107.5L836.3 608L801.3 721L736.3 953" stroke-width="3.8" stroke-linecap="butt"/>
</g>
<g font-family="'Liberation Serif', serif" fill="#000">
<text x="431.8" y="69.8" font-size="38.7">Limbo</text>
<text x="456.8" y="164.3" font-size="38.7">Lust</text>
<text x="412.1" y="240.1" font-size="38.7">Gluttony</text>
<text x="442.2" y="321.3" font-size="38.7">Greed</text>
<text x="443.2" y="393" font-size="37.8">Wrath</text>
<text x="418" y="488.5" font-size="38.7">City of Dis</text>
<text x="441.4" y="553.4" font-size="38.7">Heresy</text>
<text x="221.5" y="712.8" font-size="37.3">Violence</text>
<text x="258" y="934.8" font-size="37.3">Fraud</text>
</g>
<g font-family="'Liberation Serif', serif" fill="#000">
<text transform="translate(548.6 615.4) rotate(16.8)" font-size="27.6">Against Others</text>
<text transform="translate(553.5 670.2) rotate(17)" font-size="27.6">Against Self</text>
<text transform="translate(548.6 714.1) rotate(16.5)" font-size="27.6">Against God</text>
<text transform="translate(510.6 764.6) rotate(13.4)" font-size="25">Pandery &amp; Seduction</text>
<text transform="translate(605.6 833.8) rotate(15.6)" font-size="25.3">Flattery</text>
<text transform="translate(590.3 867.9) rotate(14.5)" font-size="25.3">Simony</text>
<text transform="translate(585.6 914.8) rotate(16)" font-size="25.3">Sorcery</text>
<text transform="translate(573.1 954.4) rotate(15)" font-size="25.3">Barratry</text>
</g>
<g font-family="'Liberation Sans', sans-serif" font-weight="bold">
<rect x="801.3" y="608.2" width="222.7" height="115.8" fill="#b45f06"/>
<rect x="568.2" y="44.5" width="326.2" height="48" fill="#ffff00"/>
<text y="80" font-size="29.5" fill="#000" stroke="#000" stroke-width="0.5" stroke-linejoin="round"><tspan x="574" textLength="35.9" lengthAdjust="spacingAndGlyphs">No</tspan> <tspan x="624.8" textLength="138.6" lengthAdjust="spacingAndGlyphs">Permanent</tspan> <tspan x="779.3" textLength="109.7" lengthAdjust="spacingAndGlyphs">Address</tspan></text>
<rect x="588.8" y="128.8" width="285.8" height="47.5" fill="#ffffff"/>
<text y="163.8" font-size="29.5" fill="#000" stroke="#000" stroke-width="0.5" stroke-linejoin="round"><tspan x="596.1" textLength="140.8" lengthAdjust="spacingAndGlyphs">Apartment</tspan> <tspan x="753" textLength="115.9" lengthAdjust="spacingAndGlyphs">Galleries</tspan></text>
<rect x="569" y="223.5" width="79.5" height="126" fill="#012d7a"/>
<text y="258.2" font-size="26.5" fill="#fff" stroke="#fff" stroke-width="0.5" stroke-linejoin="round"><tspan x="580" textLength="57" lengthAdjust="spacingAndGlyphs">New</tspan></text>
<text y="297.5" font-size="26.5" fill="#fff" stroke="#fff" stroke-width="0.5" stroke-linejoin="round"><tspan x="580" textLength="59.5" lengthAdjust="spacingAndGlyphs">York</tspan></text>
<text y="336.5" font-size="26.5" fill="#fff" stroke="#fff" stroke-width="0.5" stroke-linejoin="round"><tspan x="582" textLength="53.8" lengthAdjust="spacingAndGlyphs">City</tspan></text>
<rect x="574" y="371.2" width="170.5" height="47" fill="#ffaa00"/>
<text y="405" font-size="29.5" fill="#000" stroke="#000" stroke-width="0.5" stroke-linejoin="round"><tspan x="579.9" textLength="40.9" lengthAdjust="spacingAndGlyphs">Los</tspan> <tspan x="637.8" textLength="101.2" lengthAdjust="spacingAndGlyphs">Angeles</tspan></text>
<rect x="570" y="536" width="347.8" height="47.2" fill="#a87840"/>
<text y="570.2" font-size="29.5" fill="#fff" stroke="#fff" stroke-width="0.5" stroke-linejoin="round"><tspan x="607.7" textLength="73.5" lengthAdjust="spacingAndGlyphs">Living</tspan> <tspan x="697.4" textLength="182.7" lengthAdjust="spacingAndGlyphs">“Off-Center”</tspan></text>
<rect x="357.8" y="622" width="127" height="48.8" fill="#ff2600"/>
<text y="657.8" font-size="29.5" fill="#000" stroke="#000" stroke-width="0.5" stroke-linejoin="round"><tspan x="364.1" textLength="58.7" lengthAdjust="spacingAndGlyphs">Burn</tspan> <tspan x="437.8" textLength="39.8" lengthAdjust="spacingAndGlyphs">out</tspan></text>
<text y="641" font-size="25.5" fill="#000" stroke="#000" stroke-width="0.5" stroke-linejoin="round"><tspan x="812" textLength="93.8" lengthAdjust="spacingAndGlyphs">Housing</tspan> <tspan x="919.5" textLength="93.8" lengthAdjust="spacingAndGlyphs">Options</tspan></text>
<text y="677.8" font-size="25.5" fill="#000" stroke="#000" stroke-width="0.5" stroke-linejoin="round"><tspan x="824" textLength="36.8" lengthAdjust="spacingAndGlyphs">for</tspan> <tspan x="875.8" textLength="87.5" lengthAdjust="spacingAndGlyphs">Artists</tspan> <tspan x="977" textLength="25" lengthAdjust="spacingAndGlyphs">as</tspan></text>
<text y="715.5" font-size="25.5" fill="#000" stroke="#000" stroke-width="0.5" stroke-linejoin="round"><tspan x="824.5" textLength="45" lengthAdjust="spacingAndGlyphs">the</tspan> <tspan x="879.5" textLength="82.5" lengthAdjust="spacingAndGlyphs">Circles</tspan> <tspan x="974.5" textLength="25" lengthAdjust="spacingAndGlyphs">of</tspan></text>
<text y="752.2" font-size="25.5" fill="#000" stroke="#000" stroke-width="0.5" stroke-linejoin="round"><tspan x="853.5" textLength="46" lengthAdjust="spacingAndGlyphs">Hell</tspan> <tspan x="914.5" textLength="58" lengthAdjust="spacingAndGlyphs">from</tspan></text>
</g>
<g font-family="'Liberation Serif', serif" font-size="54.67" fill="#000">
<text x="835.75" y="816">Dante’s</text>
<text x="835.75" y="883">Inferno</text>
</g>
</svg>
</body>
</html>
